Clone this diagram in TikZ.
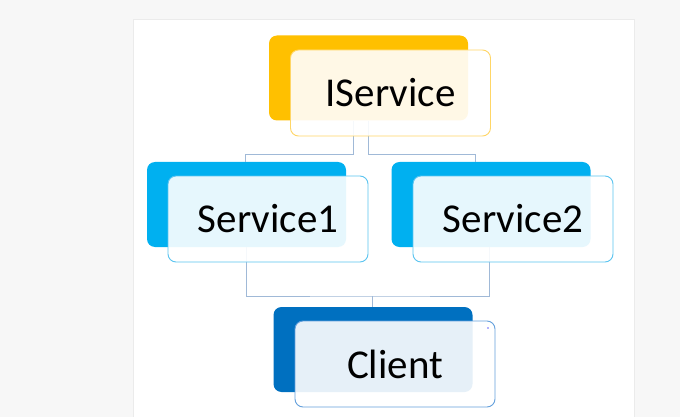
\documentclass[tikz,border=0pt]{standalone}
\usepackage{fontspec}
\setmainfont{Carlito}
\usepackage{xcolor}
\definecolor{ColA}{RGB}{255,192,0}
\definecolor{ColAL}{RGB}{255,214,102}
\definecolor{ColB}{RGB}{0,176,240}
\definecolor{ColBL}{RGB}{90,196,240}
\definecolor{ColC}{RGB}{0,112,192}
\definecolor{ColCL}{RGB}{100,160,220}
\definecolor{ColE}{RGB}{160,185,215}
\usepackage{tikz}
\tikzstyle{Back}=[rounded corners=8pt,minimum width=199pt,minimum height=85pt,
inner sep=0pt]
\tikzstyle{Front}=[rounded corners=8pt,minimum width=200pt,minimum height=86pt,
inner sep=0pt,fill=white,fill opacity=.9,text opacity=1,line width=.9pt,
font=\fontsize{41}{41}\selectfont]
\tikzstyle{Edge}=[draw=ColE,line width=1pt]

\begin{document}
\begin{tikzpicture}[x=1pt,y=-1pt]
        \useasboundingbox(0,0)rectangle(680,417);
        \fill[black!3](0,0)rectangle(680,417);
        \filldraw[fill=white,draw=black!8](133,19)rectangle(634,418);
        \node[Back,fill=ColA](ib)at(368.5,78){};
        \node[Back,fill=ColB](s1b)at(246.5,204.5){};
        \node[Back,fill=ColB](s2b)at(491,204.5){};
        \node[Back,fill=ColC](cb)at(373,349.5){};
        \coordinate(t1)at(245.7,155);
        \coordinate(t2)at(475,155);
        \coordinate(m)at(372,296);
        \draw[Edge]([xshift=-15.5pt]ib.south)|-(t1)--(t1|-s1b.north);
        \draw[Edge]([xshift=-.5pt]ib.south)|-(t2)--(t2|-s2b.north);
        \draw[Edge](s1b.south)|-(m)-|([xshift=-2pt]s2b.south);
        \draw[Edge](m)--(m|-cb.north);
        \node[Front,draw=ColAL](if)at(390.5,93){IService};
        \node[Front,draw=ColBL](s1f)at(268,219){Service1};
        \node[Front,draw=ColBL](s2f)at(513,219){Service2};
        \node[Front,draw=ColCL](cf)at(395,364){Client};
        \fill[blue!60](488,328)circle(.8);
    \end{tikzpicture}
\end{document}
